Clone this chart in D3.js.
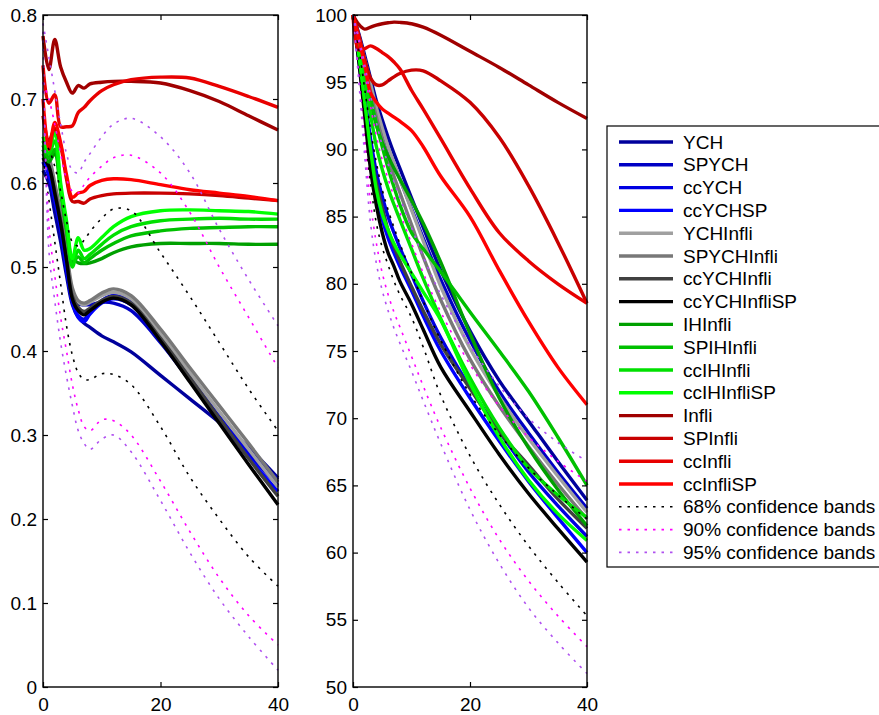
<!DOCTYPE html>
<html><head><meta charset="utf-8">
<script src="https://cdn.jsdelivr.net/npm/d3@7"></script>
<style>body{margin:0;background:#fff}svg{display:block}</style>
</head><body><svg id="c" width="879" height="715"></svg>
<script>
// horizons at which values were read
const horizons = [0,1,2,3,4,5,6,7,8,10,12,15,20,25,30,35,40];

const seriesNames = ["YCH","SPYCH","ccYCH","ccYCHSP","YCHInfli","SPYCHInfli","ccYCHInfli","ccYCHInfliSP",
  "IHInfli","SPIHInfli","ccIHInfli","ccIHInfliSP","Infli","SPInfli","ccInfli","ccInfliSP"];
const seriesColors = ["#00009c","#0000c4","#0000e2","#0000ff","#a0a0a0","#787878","#404040","#000000",
  "#00a000","#00c000","#00e000","#00ff00","#a00000","#c80000","#e80000","#ff0000"];
const bandNames = ["68% confidence bands","90% confidence bands","95% confidence bands"];
const bandColors = ["#000000","#ff00ff","#b050f0"];

// ---- Left panel values ----
const L_YCH          = [0.615,0.60,0.565,0.53,0.49,0.455,0.44,0.433,0.428,0.418,0.411,0.399,0.371,0.343,0.315,0.285,0.249];
const L_SPYCH        = [0.625,0.61,0.58,0.55,0.505,0.468,0.456,0.455,0.455,0.458,0.457,0.448,0.41,0.365,0.32,0.28,0.247];
const L_ccYCH        = [0.63,0.615,0.585,0.55,0.5,0.46,0.442,0.438,0.447,0.46,0.466,0.458,0.416,0.37,0.322,0.278,0.24];
const L_ccYCHSP      = [0.625,0.61,0.58,0.545,0.497,0.458,0.44,0.435,0.444,0.457,0.462,0.455,0.412,0.365,0.318,0.273,0.233];
const L_YCHInfli     = [0.635,0.625,0.595,0.56,0.515,0.47,0.458,0.455,0.458,0.466,0.47,0.462,0.42,0.374,0.328,0.283,0.238];
const L_SPYCHInfli   = [0.64,0.63,0.6,0.565,0.52,0.475,0.46,0.457,0.46,0.469,0.474,0.466,0.426,0.38,0.335,0.29,0.244];
const L_ccYCHInfli   = [0.635,0.62,0.59,0.555,0.51,0.465,0.452,0.447,0.451,0.46,0.465,0.457,0.415,0.368,0.32,0.272,0.227];
const L_ccYCHInfliSP = [0.63,0.62,0.588,0.552,0.508,0.462,0.448,0.443,0.448,0.458,0.463,0.455,0.412,0.363,0.314,0.265,0.217];
const L_IHInfli      = [0.64,0.625,0.635,0.59,0.545,0.51,0.505,0.504,0.505,0.51,0.517,0.524,0.528,0.528,0.528,0.527,0.527];
const L_SPIHInfli    = [0.645,0.63,0.64,0.59,0.545,0.505,0.512,0.505,0.51,0.52,0.528,0.537,0.543,0.546,0.547,0.548,0.548];
const L_ccIHInfli    = [0.65,0.635,0.65,0.595,0.55,0.5,0.52,0.51,0.515,0.527,0.538,0.548,0.555,0.557,0.558,0.557,0.557];
const L_ccIHInfliSP  = [0.655,0.64,0.66,0.6,0.555,0.51,0.535,0.52,0.522,0.535,0.548,0.56,0.567,0.568,0.567,0.566,0.563];
const L_Infli        = [0.775,0.735,0.771,0.738,0.72,0.707,0.716,0.713,0.718,0.72,0.721,0.721,0.719,0.71,0.697,0.68,0.663];
const L_SPInfli      = [0.68,0.65,0.665,0.645,0.605,0.578,0.578,0.576,0.581,0.585,0.587,0.588,0.588,0.587,0.585,0.582,0.579];
const L_ccInfli      = [0.74,0.695,0.705,0.667,0.667,0.668,0.684,0.69,0.698,0.71,0.717,0.723,0.726,0.725,0.715,0.703,0.69];
const L_ccInfliSP    = [0.70,0.64,0.672,0.648,0.61,0.583,0.588,0.59,0.597,0.603,0.605,0.604,0.598,0.592,0.588,0.584,0.579];
const L_68lo = [0.63,0.58,0.53,0.48,0.43,0.395,0.374,0.366,0.366,0.373,0.372,0.36,0.31,0.25,0.2,0.155,0.12];
const L_68hi = [0.65,0.64,0.62,0.59,0.555,0.53,0.525,0.532,0.542,0.558,0.569,0.567,0.517,0.465,0.41,0.355,0.305];
const L_90lo = [0.72,0.55,0.49,0.44,0.4,0.36,0.33,0.31,0.305,0.318,0.317,0.3,0.245,0.185,0.13,0.085,0.05];
const L_90hi = [0.72,0.70,0.67,0.635,0.605,0.59,0.588,0.598,0.607,0.62,0.63,0.633,0.612,0.565,0.5,0.44,0.38];
const L_95lo = [0.78,0.52,0.46,0.41,0.37,0.335,0.305,0.29,0.283,0.295,0.3,0.28,0.222,0.16,0.105,0.06,0.02];
const L_95hi = [0.79,0.75,0.71,0.67,0.635,0.615,0.612,0.625,0.635,0.655,0.67,0.677,0.655,0.612,0.545,0.485,0.43];

// ---- Right panel values ----
const R_YCH          = [100,98.6,97.0,95.3,93.6,92.2,90.9,89.7,88.6,86.4,84.2,81.0,76.5,72.8,69.8,66.8,63.9];
const R_SPYCH        = [100,98.4,96.6,94.8,93.0,91.5,90.1,88.9,87.8,85.6,83.4,80.3,75.8,72.0,68.9,66.0,63.3];
const R_ccYCH        = [100,97.2,94.0,90.8,88.3,86.5,85.0,83.8,82.7,80.7,78.7,76.0,72.3,69.0,66.0,63.5,61.2];
const R_ccYCHSP      = [100,96.7,93.0,89.3,86.7,84.8,83.4,82.3,81.3,79.5,77.6,75.0,71.5,68.3,65.3,62.6,60.0];
const R_YCHInfli     = [100,98.4,96.7,94.9,93.1,91.6,90.2,89.0,87.8,85.5,83.2,79.8,75.2,71.6,68.5,65.7,63.0];
const R_SPYCHInfli   = [100,98.2,96.3,94.3,92.4,90.8,89.3,88.0,86.8,84.4,82.0,78.8,74.4,70.9,67.9,65.1,62.5];
const R_ccYCHInfli   = [100,97.0,93.5,90.0,87.5,85.7,84.0,82.8,81.7,79.8,78.0,75.5,72.2,69.0,66.5,64.0,61.8];
const R_ccYCHInfliSP = [100,96.5,92.5,88.5,85.8,83.8,82.3,81.3,80.2,78.5,76.6,73.8,70.5,67.3,64.4,61.8,59.3];
const R_IHInfli      = [100,98.0,95.8,93.6,91.8,90.5,89.5,88.6,87.8,86.2,84.5,81.6,76.3,71.5,67.8,64.7,62.0];
const R_SPIHInfli    = [100,98.0,95.9,93.8,91.9,90.2,88.6,87.2,85.9,83.8,82.6,80.9,77.9,75.0,72.0,68.6,65.0];
const R_ccIHInfli    = [100,97.8,95.3,92.6,90.2,88.5,87.1,85.9,84.8,82.6,80.4,77.4,73.0,69.3,66.3,64.3,62.6];
const R_ccIHInfliSP  = [100,97.0,93.5,90.0,87.0,85.2,84.0,83.0,82.2,80.8,79.4,77.3,72.6,68.6,65.4,62.9,60.9];
const R_Infli        = [100,99.3,98.95,99.1,99.25,99.35,99.42,99.47,99.45,99.35,99.1,98.5,97.3,96.1,94.8,93.5,92.3];
const R_SPInfli      = [100,98.5,96.7,95.3,94.8,94.8,95.1,95.4,95.65,95.9,95.85,95.1,93.5,90.9,87.3,83.1,78.55];
const R_ccInfli      = [100,97.4,97.5,97.7,97.5,97.2,96.9,96.5,96.0,94.4,93.0,90.8,87.1,83.8,81.7,80.0,78.55];
const R_ccInfliSP    = [100,98.2,96.3,94.2,93.5,93.0,92.7,92.4,92.1,91.4,90.2,88.0,85.0,81.0,77.2,73.8,71.0];
const R_68lo = [100,96,91.5,87.5,84.5,82.7,81.4,80.2,79.2,77.5,75.3,71.7,67.2,63.6,60.5,57.8,55.3];
const R_68hi = [100,97.5,94.5,91.5,89,87,85.5,84.2,83,80.8,78.7,75.8,71.8,68.8,66.3,64.3,62.5];
const R_90lo = [100,95.5,90.5,86,83,80.8,79.2,77.9,76.8,74.6,72.4,69.3,64.8,61.0,57.9,55.3,53.0];
const R_90hi = [100,98,95.7,93.2,91,89.2,87.8,86.5,85.3,83.0,80.8,77.9,74.0,70.9,68.6,66.8,65.3];
const R_95lo = [100,95,89.5,84.5,81.5,79.5,78,76.7,75.6,73.5,71.3,68.1,63.2,59.2,55.9,53.3,51.0];
const R_95hi = [100,98.3,96.3,94,92,90.3,88.9,87.6,86.4,84.2,82.0,79.2,75.4,72.4,70.0,68.2,66.8];

const xTicks = [0,20,40];
const leftYTicks = [0,0.1,0.2,0.3,0.4,0.5,0.6,0.7,0.8];
const rightYTicks = [50,55,60,65,70,75,80,85,90,95,100];

const leftSeries = [L_YCH,L_SPYCH,L_ccYCH,L_ccYCHSP,L_YCHInfli,L_SPYCHInfli,L_ccYCHInfli,L_ccYCHInfliSP,
  L_IHInfli,L_SPIHInfli,L_ccIHInfli,L_ccIHInfliSP,L_Infli,L_SPInfli,L_ccInfli,L_ccInfliSP];
const rightSeries = [R_YCH,R_SPYCH,R_ccYCH,R_ccYCHSP,R_YCHInfli,R_SPYCHInfli,R_ccYCHInfli,R_ccYCHInfliSP,
  R_IHInfli,R_SPIHInfli,R_ccIHInfli,R_ccIHInfliSP,R_Infli,R_SPInfli,R_ccInfli,R_ccInfliSP];
const leftBands = [[L_68lo,L_68hi],[L_90lo,L_90hi],[L_95lo,L_95hi]];
const rightBands = [[R_68lo,R_68hi],[R_90lo,R_90hi],[R_95lo,R_95hi]];

const FONT = "'Liberation Sans', Arial, Helvetica, sans-serif";
const FS = '19px';
const svg = d3.select('#c');

function panel(x0, x1, y0, y1, yDomain, yTicks, fmt, series, bands) {
  const x = d3.scaleLinear().domain([0,40]).range([x0,x1]);
  const y = d3.scaleLinear().domain(yDomain).range([y1,y0]);
  const g = svg.append('g');
  const line = d3.line().x((d,i)=>x(horizons[i])).y(d=>y(d)).curve(d3.curveCatmullRom.alpha(0.5));
  series.forEach((vals,i)=>{
    g.append('path').attr('d', line(vals)).attr('fill','none')
      .attr('stroke', seriesColors[i]).attr('stroke-width',3.4).attr('stroke-linejoin','round');
  });
  bands.forEach((pair,b)=>{
    pair.forEach(vals=>{
      g.append('path').attr('d', line(vals)).attr('fill','none')
        .attr('stroke', bandColors[b]).attr('stroke-width',1.6).attr('stroke-dasharray','2.5,6');
    });
  });
  const ax = (gen, tx, ty, labels) => {
    const a = g.append('g').attr('transform',`translate(${tx},${ty})`).call(gen);
    a.select('.domain').remove();
    a.selectAll('line').attr('stroke','#000').attr('stroke-width',1.2);
    a.selectAll('text').attr('fill','#000').style('font-family',FONT).style('font-size',FS);
    if(!labels) a.selectAll('text').remove();
    return a;
  };
  ax(d3.axisLeft(y).tickValues(yTicks).tickFormat(fmt).tickSize(-5).tickPadding(6), x0, 0, true);
  ax(d3.axisRight(y).tickValues(yTicks).tickSize(-5), x1, 0, false);
  ax(d3.axisBottom(x).tickValues(xTicks).tickFormat(d3.format('d')).tickSize(-5).tickPadding(11), 0, y1, true);
  ax(d3.axisTop(x).tickValues(xTicks).tickSize(-5), 0, y0, false);
  g.append('rect').attr('x',x0).attr('y',y0).attr('width',x1-x0).attr('height',y1-y0)
    .attr('fill','none').attr('stroke','#000').attr('stroke-width',1.4);
}

panel(43, 278, 15, 687, [0,0.8], leftYTicks, d=> d===0 ? '0' : d3.format('.1f')(d), leftSeries, leftBands);
panel(353, 587, 15, 687, [50,100], rightYTicks, d3.format('d'), rightSeries, rightBands);

// legend
const lg = svg.append('g');
lg.append('rect').attr('x',607).attr('y',126).attr('width',290).attr('height',441)
  .attr('fill','#fff').attr('stroke','#000').attr('stroke-width',1.2);
const items = seriesNames.map((n,i)=>({n, c:seriesColors[i], dash:null}))
  .concat(bandNames.map((n,i)=>({n, c:bandColors[i], dash:'2.5,6'})));
items.forEach((it,i)=>{
  const yy = 142 + i*22.8;
  lg.append('line').attr('x1',619).attr('x2',673).attr('y1',yy).attr('y2',yy)
    .attr('stroke',it.c).attr('stroke-width', it.dash ? 1.6 : 3.4)
    .attr('stroke-dasharray', it.dash);
  lg.append('text').attr('x',683).attr('y',yy).attr('dy','0.35em').text(it.n)
    .style('font-family',FONT).style('font-size',FS).attr('fill','#000');
});
</script></body></html>
